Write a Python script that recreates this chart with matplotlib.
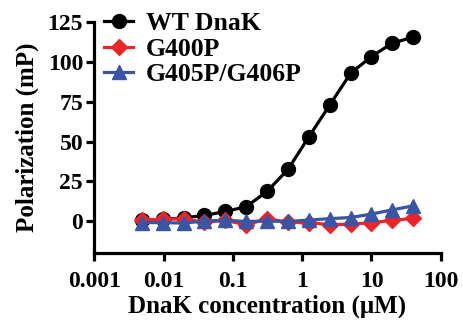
import numpy as np
import matplotlib
matplotlib.use("Agg")
import matplotlib.pyplot as plt

# DnaK concentration (uM), 2-fold serial dilution
conc = [0.0049, 0.0098, 0.0195, 0.039, 0.078, 0.156, 0.3125, 0.625, 1.25, 2.5, 5, 10, 20, 40]
wt = [0.5, 1.0, 2.0, 3.5, 6.0, 9.0, 18.7, 32.5, 53.0, 73.0, 93.0, 103.5, 112.0, 115.7]
g400p = [0.8, 1.0, 1.5, -0.8, 0.5, -2.5, 1.5, -0.8, -1.0, -2.3, -2.0, -1.0, 0.4, 1.7]
g405p = [-1.0, -1.0, -1.3, 0.0, 0.5, -0.3, 0.0, -0.3, 0.6, 1.5, 2.2, 4.4, 7.0, 9.6]

labels = ["WT DnaK", "G400P", "G405P/G406P"]
colors = ["black", "#e8262a", "#3a55a4"]
markers = ["o", "D", "^"]
msizes = [10, 8.5, 9.5]

plt.rcParams['font.family'] = ['Liberation Serif', 'DejaVu Serif']
plt.rcParams['font.weight'] = 'bold'

fig, ax = plt.subplots(figsize=(4.64, 3.2), dpi=100)

for y, lab, c, m, ms in zip([wt, g400p, g405p], labels, colors, markers, msizes):
    ax.plot(conc, y, color=c, marker=m, markersize=ms, linewidth=2.3, label=lab)

ax.set_xscale('log')
ax.set_xlim(0.001, 100)
ax.set_ylim(-20, 125)
ax.set_yticks([0, 25, 50, 75, 100, 125])
ax.set_xticks([0.001, 0.01, 0.1, 1, 10, 100])
ax.set_xticklabels(["0.001", "0.01", "0.1", "1", "10", "100"])

for s in ['top', 'right']:
    ax.spines[s].set_visible(False)
for s in ['left', 'bottom']:
    ax.spines[s].set_linewidth(2.3)
ax.tick_params(axis='both', which='major', width=2.3, length=6, labelsize=17)
ax.tick_params(axis='x', which='major', pad=7)
ax.tick_params(axis='y', which='major', pad=2)
ax.tick_params(axis='x', which='minor', width=1.8, length=4)

ax.set_xlabel("DnaK concentration (\u03bcM)", fontsize=18, fontweight='bold', labelpad=2)
ax.set_ylabel("Polarization (mP)", fontsize=18, fontweight='bold', labelpad=6)

ax.legend(loc='upper left', bbox_to_anchor=(0.0, 1.09), frameon=False,
          fontsize=18.5, handlelength=1.1, handletextpad=0.5, labelspacing=0.1,
          borderaxespad=0.2, borderpad=0.2)

fig.subplots_adjust(left=0.203, right=0.95, top=0.93, bottom=0.21)
fig.savefig("out.png", dpi=100)
